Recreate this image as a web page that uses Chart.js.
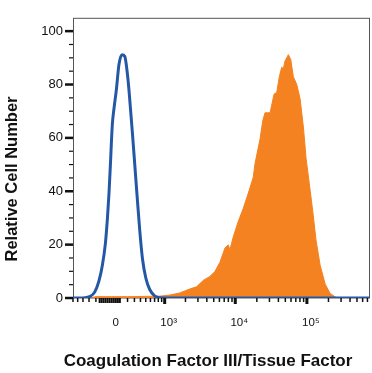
<!DOCTYPE html>
<html><head><meta charset="utf-8">
<script src="https://cdn.jsdelivr.net/npm/chart.js@4.4.1/dist/chart.umd.min.js"></script>
<style>html,body{margin:0;padding:0;background:#fff;}#wrap{width:372px;height:373px;}</style>
</head><body><div id="wrap"><canvas id="c" width="372" height="373"></canvas></div>
<script>
// ---- data (fluorescence intensity, relative cell number) ----
const isotypeX = [-600, -400, -290, -217, -159, -115, -77, -52, -33, -16, -4, 8, 28, 57, 89, 127, 162, 207, 241, 270, 306, 343, 388, 437, 501, 587, 708, 842, 1200, 760000];
const isotypeY = [0, 0, 0.5, 2.2, 6.4, 12.3, 20.5, 29.9, 39.3, 49.9, 58.2, 65.3, 71.1, 78.2, 87.6, 91.2, 90.6, 81.7, 71.1, 61.7, 49.9, 38.2, 25.2, 14.6, 7.5, 3.1, 0.7, 0.1, 0, 0];

const stainedX = [-290, -200, 0, 200, 500, 842, 1190, 1660, 2310, 2870, 3560, 4420, 5190, 6100, 7170, 7970, 8420, 9370, 11000, 12900, 15200, 17800, 18900, 22100, 24200, 26000, 30600, 32300, 34800, 37900, 41200, 44500, 46900, 49500, 55100, 59500, 64700, 72200, 80300, 89300, 97400, 108000, 121000, 134000, 153000, 180000, 211000, 262000, 300000];
const stainedY = [0, 0.5, 0.5, 0.5, 0.6, 0.7, 1.1, 1.9, 3.4, 4.2, 6.6, 8.1, 9.9, 13.4, 18.7, 19.9, 18.1, 22.9, 28.7, 33.5, 39.3, 45.2, 50.5, 59.4, 66.4, 69.4, 69.4, 72.3, 76.4, 77.0, 82.9, 86.5, 85.9, 88.8, 91.2, 89.4, 82.9, 80.0, 74.7, 64.1, 52.3, 42.9, 32.3, 21.7, 12.3, 5.2, 1.7, 0, 0];

// ---- ticks ----
const xTickValues = [0, 1000, 10000, 100000];
const xTickLabels = ['0', '10\u00B3', '10\u2074', '10\u2075'];
const xMajorTicks = [1000, 10000, 100000];
const xMinorTicks = [-600, -500, -400, -300, -200, 200, 300, 400, 500, 600, 700, 800, 900,
  2000, 3000, 4000, 5000, 6000, 7000, 8000, 9000,
  20000, 30000, 40000, 50000, 60000, 70000, 80000, 90000,
  200000, 300000, 400000, 500000, 600000, 700000];
const xZeroTicks = [-150, -125, -100, -75, -50, -25, 0, 25, 50, 75, 100];
const yMajorTicks = [0, 20, 40, 60, 80, 100];
const yMinorTicks = [5, 10, 15, 25, 30, 35, 45, 50, 55, 65, 70, 75, 85, 90, 95];

const xTitle = 'Coagulation Factor III/Tissue Factor';
const yTitle = 'Relative Cell Number';

// ---- biexponential (arcsinh) x scale ----
const COF = 377;
const fwd = v => Math.asinh(v / COF) / Math.LN10;
const inv = t => COF * Math.sinh(t * Math.LN10);
const LinearScale = Chart.LinearScale || Chart.registry.getScale('linear');
class BiexScale extends LinearScale {
  buildTicks() { return xTickValues.map(v => ({ value: v })); }
  configure() {
    super.configure();
    this._tmin = fwd(this.min); this._tmax = fwd(this.max);
  }
  getPixelForValue(v) {
    if (v === null || v === undefined) return NaN;
    return this.getPixelForDecimal((fwd(v) - this._tmin) / (this._tmax - this._tmin));
  }
  getValueForPixel(p) {
    return inv(this._tmin + this.getDecimalForPixel(p) * (this._tmax - this._tmin));
  }
}
BiexScale.id = 'biex';
Chart.register(BiexScale);

const FONT = '"Liberation Sans", Arial, Helvetica, sans-serif';

const decor = {
  id: 'decor',
  beforeDatasetsDraw(chart) {
    const { ctx, chartArea: a } = chart;
    ctx.save();
    ctx.strokeStyle = '#555';
    ctx.lineWidth = 1;
    ctx.strokeRect(a.left + 0.5, a.top + 0.5, a.right - a.left - 1, a.bottom - a.top - 0.5);
    ctx.restore();
  },
  afterDraw(chart) {
    const { ctx, chartArea: a, scales: { x, y } } = chart;
    ctx.save();
    ctx.strokeStyle = '#111';
    const hTick = (v, len, w) => {
      const py = y.getPixelForValue(v);
      ctx.lineWidth = w; ctx.beginPath();
      ctx.moveTo(a.left - len, py); ctx.lineTo(a.left, py); ctx.stroke();
    };
    const vTick = (v, len, w) => {
      const px = x.getPixelForValue(v);
      ctx.lineWidth = w; ctx.beginPath();
      ctx.moveTo(px, a.bottom); ctx.lineTo(px, a.bottom + len); ctx.stroke();
    };
    yMinorTicks.forEach(v => hTick(v, 4, 1.2));
    yMajorTicks.forEach(v => hTick(v, 8, 2.5));
    xMinorTicks.forEach(v => vTick(v, 4, 1.5));
    xZeroTicks.forEach(v => vTick(v, 5, 2));
    xMajorTicks.forEach(v => vTick(v, 6, 3));

    ctx.fillStyle = '#111';
    ctx.font = 'bold 17px ' + FONT;
    ctx.textAlign = 'center';
    ctx.textBaseline = 'alphabetic';
    ctx.fillText(xTitle, 208, 365.5);

    ctx.translate(16.7, 179);
    ctx.rotate(-Math.PI / 2);
    ctx.font = 'bold 16.5px ' + FONT;
    ctx.fillText(yTitle, 0, 0);
    ctx.restore();
  }
};

new Chart(document.getElementById('c'), {
  type: 'line',
  data: {
    datasets: [
      {
        label: 'Isotype control',
        data: isotypeX.map((v, i) => ({ x: v, y: isotypeY[i] })),
        borderColor: '#2458a6',
        borderWidth: 3,
        pointRadius: 0,
        fill: false,
        cubicInterpolationMode: 'monotone'
      },
      {
        label: 'Coagulation Factor III/Tissue Factor',
        data: stainedX.map((v, i) => ({ x: v, y: stainedY[i] })),
        borderColor: '#f58220',
        backgroundColor: '#f58220',
        borderWidth: 1,
        pointRadius: 0,
        fill: 'origin',
        tension: 0
      }
    ]
  },
  options: {
    responsive: false,
    animation: false,
    devicePixelRatio: 1,
    layout: { padding: { top: 1, right: 2, left: 0, bottom: 0 } },
    plugins: { legend: { display: false }, tooltip: { enabled: false } },
    scales: {
      x: {
        type: 'biex', min: -600, max: 760000,
        grid: { display: false, drawTicks: false },
        border: { display: false },
        ticks: {
          autoSkip: false, maxRotation: 0, padding: 18, labelOffset: 4, color: '#111',
          font: { family: FONT, size: 11.5 },
          callback: (v) => xTickLabels[xTickValues.indexOf(v)]
        },
        afterFit: s => { s.height = 75; }
      },
      y: {
        min: 0, max: 105,
        grid: { display: false, drawTicks: false },
        border: { display: false },
        ticks: { stepSize: 20, includeBounds: false, padding: 10, color: '#111', font: { family: FONT, size: 13 } },
        afterFit: s => { s.width = 73; }
      }
    }
  },
  plugins: [decor]
});
</script>
</body></html>
